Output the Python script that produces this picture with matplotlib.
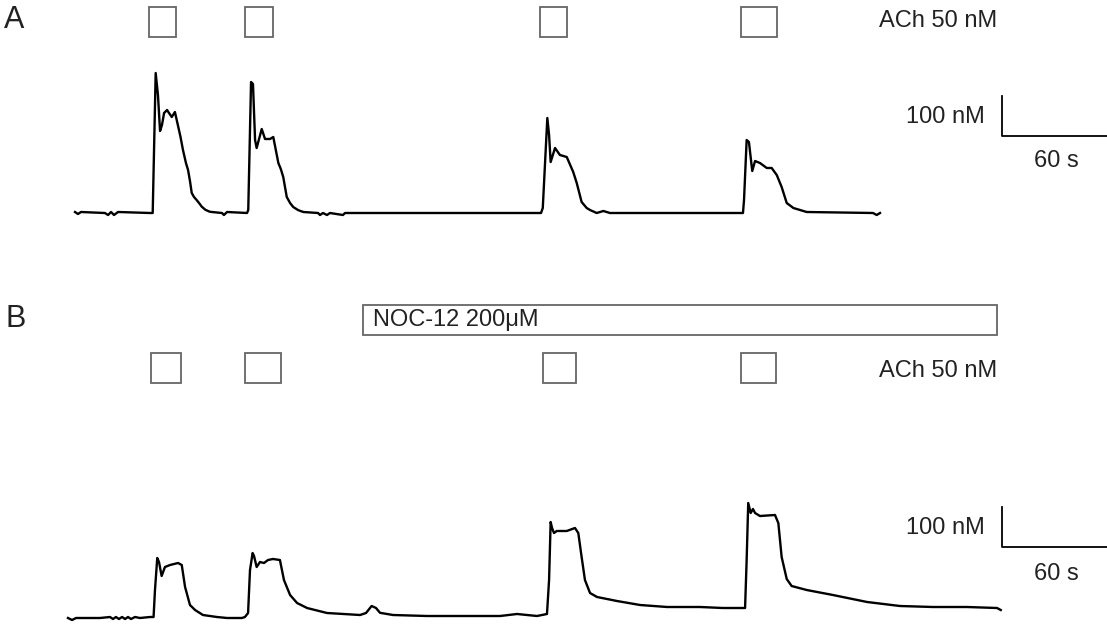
import matplotlib
matplotlib.use('Agg')
import matplotlib.pyplot as plt
from matplotlib.patches import Rectangle
from matplotlib.transforms import blended_transform_factory

plt.rcParams['font.family'] = ['Liberation Sans', 'DejaVu Sans']

# panel A trace: time (s), delta [Ca2+] (nM)
a_t = [0, 1.7, 3.4, 17.1, 18.9, 20.6, 22.3, 24.6, 42.9, 44.4, 46.1, 47.4, 48.6, 49.7,
       50.9, 52.6, 53.7, 55.3, 57.1, 58.9, 60.3, 61.7, 63.4, 64.6, 65.7, 66.7, 68.0,
       69.5, 71.4, 72.4, 74.5, 77.1, 84, 85.1,
       86.9, 98.3, 99, 100.6, 101.7, 102.9, 103.8, 106.7, 108.6, 111.4, 113.3, 116.2,
       117.6, 119, 121, 122.9, 124.7, 127.6, 130.5, 138.9, 140, 141.7, 144, 145.7, 153.1,
       154.3, 266.3,
       267.3, 269.9, 270.9, 271.8, 274.3, 277.1, 281, 284.7, 286.7, 289.5, 292.4, 294.3,
       298.1, 301.9, 305.7, 381.7, 382.3, 383.8, 385.1, 387, 388.6, 391.4, 395.3, 398.1,
       401, 403.8, 406.7, 410.5, 418.1, 456, 458.1, 460]
a_ca = [2.5, -2.5, 2.5, 0, -5, 2.5, -5, 2.5, 0, 0, 350, 295, 205, 220,
        250, 257.5, 250, 240, 252.5, 217.5, 190, 157.5, 125, 107.5, 80, 50, 40,
        32.5, 22, 16, 8, 3, 0, -5,
        2.5, 0, 7.5, 327.5, 322.5, 182.5, 162.5, 210, 185, 185, 190, 125,
        110, 90, 40, 25, 15, 7, 2.5, 0, -5, 0, -5, 0, -5,
        0, 0,
        12.5, 237.5, 195, 127.5, 162.5, 145, 140, 102.5, 75, 27.5, 12.5, 7.5,
        0, 5, 0, 0, 32.5, 182.5, 177.5, 105, 130, 125, 112.5, 112.5,
        95, 65, 25, 12.5, 2.5, 0, -5, 0]

# panel B trace
b_t = [0, 2.3, 4.6, 18.3, 24, 25.7, 27.4, 29.1, 30.9, 32.6, 34.3, 36, 38.3, 41.1, 46.9,
       48.9, 49.7, 51, 52, 53.5, 55.4, 58.3, 62.9, 65, 66.9, 69.7, 72.6, 77.1, 85.1,
       90.9, 99.4, 101.1, 102.9, 104, 105.5, 106.3, 107.8, 109.7, 112, 114.3, 117.1,
       121.1, 123.4, 126.9, 130.9, 136.6, 148, 166.9, 170.3, 173.5, 176, 178.3, 185.7,
       205.1, 224, 246.9, 256.6, 268, 273.7, 274.9, 275.8, 276.6, 277.7, 279.3, 285,
       289.7, 291.6, 293.5, 295.4, 298.3, 302.3, 313.7, 326.9, 342.3, 361.1, 374.3,
       386.9, 387.8, 388.7, 390.1, 391.4, 392.6, 395.4, 404, 405.9, 407.8, 410.7, 413.5,
       422.1, 437.1, 456.6, 475.4, 494.3, 513.7, 530.9, 533]
b_ca = [0, -5, 0, 0, 2.5, -2.5, 2.5, -2.5, 2.5, -2.5, 2.5, -2.5, 2.5, 0, 2.5,
        2.5, 70, 150, 140, 105, 127.5, 132.5, 137.5, 132.5, 77.5, 32.5, 20, 7.5, 2.5,
        0, 0, 2.5, 12.5, 120, 162.5, 155, 127.5, 140, 137.5, 145, 147.5,
        145, 95, 57.5, 37.5, 25, 12.5, 7.5, 12.5, 30, 25, 13, 7.5,
        5, 5, 5, 10, 5, 10, 95, 240, 225, 212.5, 217.5, 217.5,
        225, 212.5, 152.5, 95, 62.5, 52.5, 42.5, 32.5, 27.5, 27.5, 25,
        25, 145, 287.5, 262.5, 272.5, 262.5, 255, 257.5, 237.5, 152.5, 97.5, 80,
        70, 57.5, 40, 30, 27.5, 27.5, 25, 20]

# ACh 50 nM applications (start, end) in s
ach_a = [(42.3, 57.7), (97.1, 113.1), (265.7, 281.1), (380.6, 401.1)]
ach_b = [(47.4, 64.6), (101.1, 121.7), (271.4, 290.3), (384.6, 404.6)]
noc_b = (168.6, 530.9)

W, H = 1107, 629
fig = plt.figure(figsize=(W / 100, H / 100), dpi=100)

# 1.75 px per s, 0.4 px per nM
axA = fig.add_axes([0, 315 / H, 1, 314 / H])
axA.set_xlim(-75 / 1.75, (W - 75) / 1.75)
axA.set_ylim(-252.5, 532.5)
axB = fig.add_axes([0, 0, 1, 315 / H])
axB.set_xlim(-68 / 1.75, (W - 68) / 1.75)
axB.set_ylim(-27.5, 760)
for ax in (axA, axB):
    ax.axis('off')

axA.plot(a_t, a_ca, color='black', lw=1.7, solid_joinstyle='round')
axB.plot(b_t, b_ca, color='black', lw=1.7, solid_joinstyle='round')

box_kw = dict(facecolor='white', edgecolor='#666666', lw=1.3, clip_on=False)
trA = blended_transform_factory(axA.transData, axA.transAxes)
for s, e in ach_a:
    axA.add_patch(Rectangle((s, 0.882), e - s, 0.0955, transform=trA, **box_kw))
trB = blended_transform_factory(axB.transData, axB.transAxes)
for s, e in ach_b:
    axB.add_patch(Rectangle((s, 0.781), e - s, 0.0952, transform=trB, **box_kw))
axB.add_patch(Rectangle((noc_b[0], 0.933), noc_b[1] - noc_b[0], 0.0952,
                        transform=trB, **box_kw))

# scale bars 100 nM / 60 s
axA.plot([529.7, 529.7, 589.7], [292.5, 192.5, 192.5], color='black', lw=1.3)
axB.plot([533.7, 533.7, 593.7], [277.5, 177.5, 177.5], color='black', lw=1.3)


def txt(x, y, s, ha='left', size=17):
    fig.text(x / W, 1 - y / H, s, ha=ha, va='center', fontsize=size, color='#222222')


txt(4, 20, 'A', size=22)
txt(5, 319, 'B', size=22)
txt(997, 21, 'ACh 50 nM', ha='right')
txt(997, 371, 'ACh 50 nM', ha='right')
txt(373, 320, 'NOC-12 200μM')
txt(985, 117, '100 nM', ha='right')
txt(1056, 161, '60 s', ha='center')
txt(985, 528, '100 nM', ha='right')
txt(1056, 574, '60 s', ha='center')

fig.savefig('out.png', dpi=100)
